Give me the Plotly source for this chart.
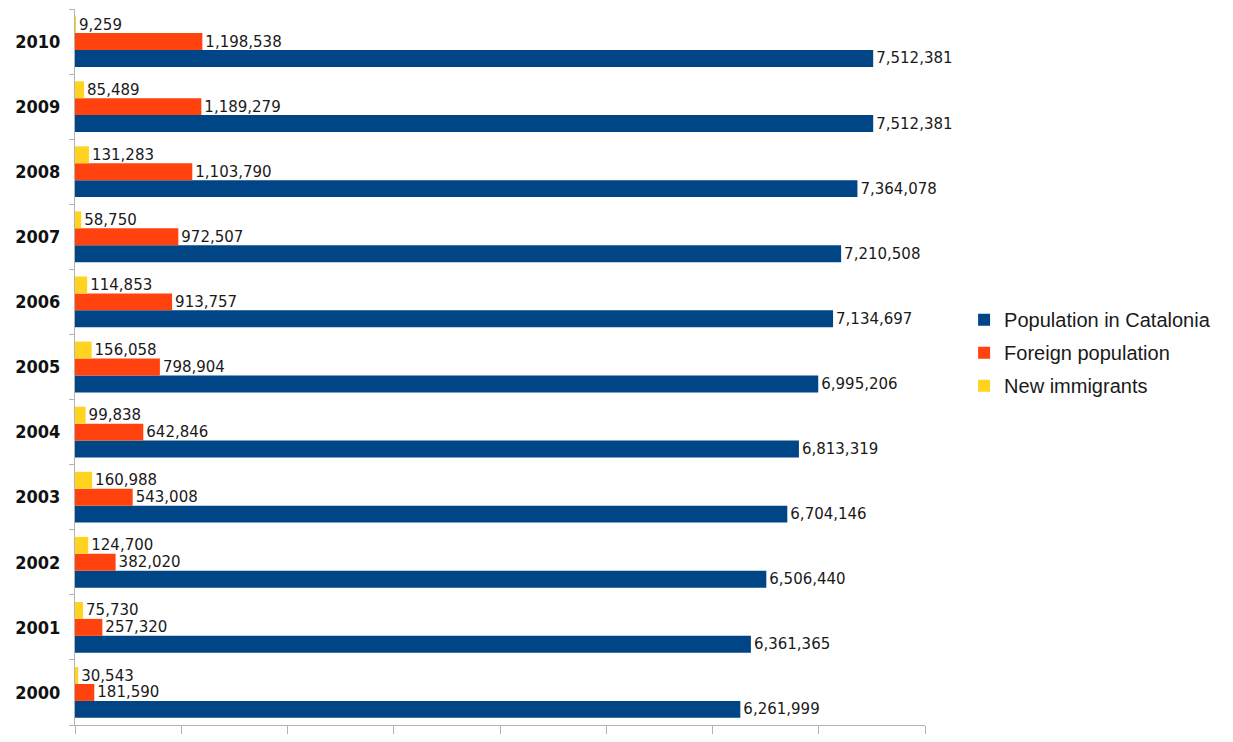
import plotly.graph_objects as go

years = ["2000", "2001", "2002", "2003", "2004", "2005",
         "2006", "2007", "2008", "2009", "2010"]
population = [6261999, 6361365, 6506440, 6704146, 6813319, 6995206,
              7134697, 7210508, 7364078, 7512381, 7512381]
foreign = [181590, 257320, 382020, 543008, 642846, 798904,
           913757, 972507, 1103790, 1189279, 1198538]
new_immigrants = [30543, 75730, 124700, 160988, 99838, 156058,
                  114853, 58750, 131283, 85489, 9259]

series = [
    ("Population in Catalonia", population, "#004586"),
    ("Foreign population", foreign, "#ff420e"),
    ("New immigrants", new_immigrants, "#ffd320"),
]

fig = go.Figure()
for name, values, color in series:
    fig.add_trace(go.Bar(
        y=years,
        x=values,
        name=name,
        legendgroup=name,
        orientation="h",
        marker=dict(color=color, line=dict(width=0)),
        text=[f"{v:,}" for v in values],
        textposition="outside",
        textfont=dict(family="DejaVu Sans", size=15, color="#1a1a1a"),
        constraintext="none",
        cliponaxis=False,
    ))

fig.update_layout(
    width=1233,
    height=742,
    margin=dict(l=75, r=308, t=9, b=10),
    paper_bgcolor="white",
    plot_bgcolor="white",
    barmode="group",
    bargap=0.22,
    bargroupgap=0,
    showlegend=True,
    legend=dict(
        x=1.046, xanchor="left",
        y=0.52, yanchor="middle",
        traceorder="grouped",
        tracegroupgap=4,
        font=dict(family="Liberation Sans", size=20, color="#1a1a1a"),
        bgcolor="rgba(0,0,0,0)",
    ),
    xaxis=dict(
        range=[0, 8000000],
        dtick=1000000,
        showgrid=False,
        zeroline=False,
        showline=True,
        linecolor="#b3b3b3",
        linewidth=1,
        ticks="outside",
        ticklen=8,
        tickcolor="#b3b3b3",
        showticklabels=False,
    ),
    yaxis=dict(
        type="category",
        categoryorder="array",
        categoryarray=years,
        showgrid=False,
        zeroline=False,
        showline=True,
        linecolor="#b3b3b3",
        linewidth=1,
        ticks="outside",
        tickson="boundaries",
        ticklen=5,
        tickcolor="#b3b3b3",
        ticklabelstandoff=10,
        tickfont=dict(family="DejaVu Sans Condensed, DejaVu Sans", size=18,
                      color="#111111", weight="bold"),
    ),
)

fig.write_html("out.html")
